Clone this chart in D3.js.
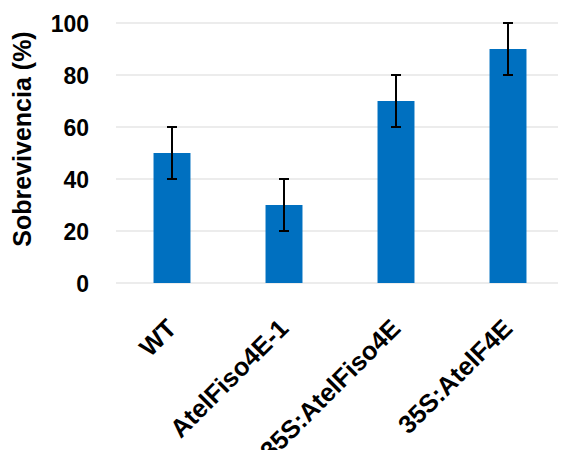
<!DOCTYPE html>
<html>
<head>
<meta charset="utf-8">
<script src="https://cdn.jsdelivr.net/npm/d3@7"></script>
<style>
  html, body { margin: 0; padding: 0; background: #fff; }
  svg { display: block; }
  text { font-family: "Liberation Sans", Arial, sans-serif; font-weight: bold; fill: #000; }
</style>
</head>
<body>
<script>
// Survival rate per genotype with its error margin
const categories = ["WT", "AtelFiso4E-1", "35S:AtelFiso4E", "35S:AtelF4E"];
const survival = [50, 30, 70, 90];
const errors = [10, 10, 10, 10];
const yTicks = [0, 20, 40, 60, 80, 100];

const width = 561, height = 450;
const svg = d3.select("body").append("svg")
  .attr("width", width).attr("height", height);

const x = d3.scaleBand()
  .domain(categories)
  .range([116, 564])
  .paddingInner(0.67)
  .paddingOuter(0.335);

const y = d3.scaleLinear().domain([0, 100]).range([283, 23]);

// Horizontal gridlines
svg.append("g")
  .selectAll("line")
  .data(yTicks)
  .join("line")
  .attr("x1", 116).attr("x2", 558)
  .attr("y1", d => y(d)).attr("y2", d => y(d))
  .attr("stroke", "#d9d9d9").attr("stroke-width", 1.2);

// Y axis tick labels
const yAxis = d3.axisLeft(y).tickValues(yTicks).tickSize(0).tickPadding(0);
const gy = svg.append("g").attr("transform", "translate(89,1)").call(yAxis);
gy.select(".domain").remove();
gy.selectAll("text")
  .style("font-size", "23px")
  .style("font-family", "Liberation Sans, Arial, sans-serif")
  .style("font-weight", "bold")
  .attr("fill", "#000");

// Y axis title
svg.append("text")
  .attr("transform", "translate(31,139) rotate(-90)")
  .attr("text-anchor", "middle")
  .style("font-size", "25px")
  .text("Sobrevivencia (%)");

// Bars
svg.append("g")
  .selectAll("rect")
  .data(categories)
  .join("rect")
  .attr("x", d => x(d))
  .attr("width", x.bandwidth())
  .attr("y", (d, i) => y(survival[i]))
  .attr("height", (d, i) => y(0) - y(survival[i]))
  .attr("fill", "#0070c0");

// Error bars
const eb = svg.append("g").attr("stroke", "#000").attr("stroke-width", 2);
categories.forEach((c, i) => {
  const cx = x(c) + x.bandwidth() / 2;
  const lo = y(survival[i] - errors[i]), hi = y(survival[i] + errors[i]);
  eb.append("line").attr("x1", cx).attr("x2", cx).attr("y1", lo).attr("y2", hi);
  eb.append("line").attr("x1", cx - 5).attr("x2", cx + 5).attr("y1", lo).attr("y2", lo);
  eb.append("line").attr("x1", cx - 5).attr("x2", cx + 5).attr("y1", hi).attr("y2", hi);
});

// Category labels, rotated
const xAxis = d3.axisBottom(x).tickSize(0).tickPadding(0);
const gx = svg.append("g").attr("transform", "translate(0,283)").call(xAxis);
gx.select(".domain").remove();
gx.selectAll("text")
  .style("font-size", "25.5px")
  .style("font-family", "Liberation Sans, Arial, sans-serif")
  .style("font-weight", "bold")
  .attr("fill", "#000")
  .attr("text-anchor", "end")
  .attr("dy", null)
  .attr("transform", "translate(6,47) rotate(-45)");
</script>
</body>
</html>
